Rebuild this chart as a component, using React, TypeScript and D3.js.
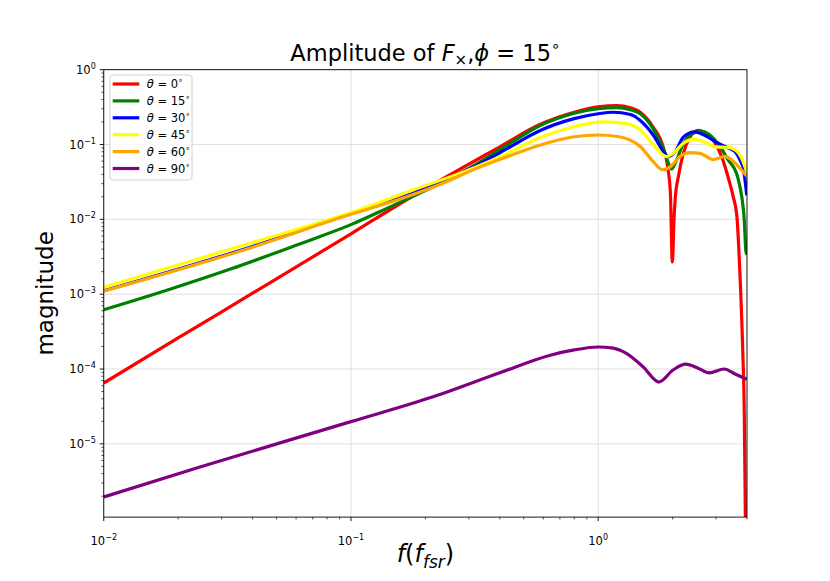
import * as d3 from "d3";

// figure size and axes box (matplotlib default subplot params)
const width = 830,
	height = 581;
const left = 103.75,
	right = 747,
	top = 69.7,
	bottom = 517.1;

const thetaLabels = ["0", "15", "30", "45", "60", "90"];
const colors = ["red", "green", "blue", "yellow", "orange", "purple"];

// [f / f_fsr, magnitude]
const theta0 = [
	[0.01, 6.5e-5], [0.02, 2.6e-4], [0.04, 1.03e-3], [0.1, 6.4e-3], [0.18, 2.1e-2],
	[0.25, 3.9e-2], [0.4, 0.093], [0.58, 0.185], [0.8, 0.27], [1.0, 0.318],
	[1.19, 0.332], [1.35, 0.31], [1.48, 0.27], [1.67, 0.17], [1.84, 0.088],
	[1.92, 0.045], [1.96, 0.022], [1.995, 0.0027], [2.03, 0.011], [2.05, 0.019],
	[2.11, 0.037], [2.21, 0.076], [2.35, 0.125], [2.54, 0.155], [2.7, 0.145],
	[2.92, 0.115], [3.16, 0.069], [3.36, 0.036], [3.52, 0.02], [3.64, 0.011],
	[3.75, 0.0017], [3.84, 2.0e-4], [3.9, 2.6e-5], [3.94, 1e-6], [3.97, 1e-7],
];
const theta15 = [
	[0.01, 6.2e-4], [0.018, 1.13e-3], [0.033, 2.2e-3], [0.062, 4.7e-3], [0.1, 8.5e-3],
	[0.144, 1.47e-2], [0.196, 2.35e-2], [0.31, 5.1e-2], [0.43, 0.099], [0.58, 0.178],
	[0.8, 0.262], [1.0, 0.302], [1.19, 0.312], [1.35, 0.292], [1.48, 0.258],
	[1.67, 0.162], [1.84, 0.086], [1.95, 0.051], [1.985, 0.047], [2.02, 0.051],
	[2.08, 0.063], [2.21, 0.103], [2.43, 0.142], [2.62, 0.15], [2.83, 0.134],
	[3.11, 0.094], [3.36, 0.062], [3.63, 0.041], [3.69, 0.034], [3.81, 0.02],
	[3.9, 0.0098], [3.96, 0.0037], [4.0, 0.0034],
];
const theta30 = [
	[0.01, 1.11e-3], [0.04, 4.35e-3], [0.09, 1.07e-2], [0.168, 2.08e-2], [0.25, 3.6e-2],
	[0.31, 4.9e-2], [0.43, 0.089], [0.58, 0.153], [0.8, 0.222], [1.0, 0.258],
	[1.15, 0.27], [1.35, 0.252], [1.48, 0.21], [1.67, 0.134], [1.86, 0.076],
	[1.92, 0.069], [2.05, 0.08], [2.21, 0.125], [2.46, 0.148], [2.75, 0.128],
	[3.06, 0.104], [3.31, 0.092], [3.58, 0.08], [3.75, 0.062], [3.87, 0.047],
	[3.99, 0.021],
];
const theta45 = [
	[0.01, 1.24e-3], [0.04, 4.9e-3], [0.1, 1.23e-2], [0.168, 2.3e-2], [0.31, 4.8e-2],
	[0.43, 0.076], [0.58, 0.123], [0.8, 0.173], [1.05, 0.201], [1.3, 0.19],
	[1.48, 0.156], [1.67, 0.1], [1.89, 0.069], [2.01, 0.076], [2.21, 0.104],
	[2.43, 0.117], [2.66, 0.11], [2.97, 0.093], [3.31, 0.092], [3.58, 0.085],
	[3.81, 0.065], [3.99, 0.043],
];
const theta60 = [
	[0.01, 1.1e-3], [0.04, 4.25e-3], [0.09, 1.05e-2], [0.168, 2.0e-2], [0.23, 2.94e-2],
	[0.31, 4.55e-2], [0.43, 0.069], [0.58, 0.098], [0.8, 0.127], [1.0, 0.134],
	[1.2, 0.128], [1.48, 0.094], [1.67, 0.059], [1.82, 0.046], [1.95, 0.05],
	[2.14, 0.069], [2.35, 0.078], [2.58, 0.076], [2.92, 0.063], [3.26, 0.0695],
	[3.47, 0.062], [3.75, 0.048], [3.99, 0.038],
];
const theta90 = [
	[0.01, 1.95e-6], [0.0245, 4.9e-6], [0.1, 1.98e-5], [0.215, 4.25e-5], [0.4, 8.9e-5],
	[0.64, 1.53e-4], [0.8, 1.8e-4], [1.0, 1.97e-4], [1.15, 1.9e-4], [1.3, 1.62e-4],
	[1.52, 1.07e-4], [1.76, 6.7e-5], [2.01, 9.7e-5], [2.26, 1.16e-4], [2.55, 1.02e-4],
	[2.81, 8.9e-5], [3.23, 1.0e-4], [3.6, 8.5e-5], [3.99, 7.3e-5],
];
const series = [theta0, theta15, theta30, theta45, theta60, theta90];

const xTicks = [0.01, 0.1, 1];
const xTickExp = ["\u22122", "\u22121", "0"];
const yTicks = [1, 1e-1, 1e-2, 1e-3, 1e-4, 1e-5];
const yTickExp = ["0", "\u22121", "\u22122", "\u22123", "\u22124", "\u22125"];

const font = "DejaVu Sans";

export default function App() {
	const x = d3.scaleLog().domain([0.01, 4]).range([left, right]);
	const y = d3.scaleLog().domain([1.05e-6, 1]).range([bottom, top]);

	const line = d3
		.line()
		.x((d) => x(d[0]))
		.y((d) => y(d[1]))
		.curve(d3.curveMonotoneX);

	const xMinor = x.ticks(30).filter((t) => !xTicks.some((m) => Math.abs(m - t) < 1e-9) && t <= 4);
	const yMinor = y.ticks(60).filter((t) => !yTicks.some((m) => Math.abs(m / t - 1) < 1e-6));

	return (
		<svg width={width} height={height} style={{ position: "absolute", left: 0, top: 0 }} fontFamily={font}>
			<rect width={width} height={height} fill="white" />
			<defs>
				<clipPath id="plot">
					<rect x={left} y={top} width={right - left} height={bottom - top} />
				</clipPath>
			</defs>

			{/* grid */}
			{xTicks.map((t) => (
				<line key={"gx" + t} x1={x(t)} x2={x(t)} y1={top} y2={bottom} stroke="#dcdcdc" strokeWidth={0.9} />
			))}
			{yTicks.map((t) => (
				<line key={"gy" + t} x1={left} x2={right} y1={y(t)} y2={y(t)} stroke="#dcdcdc" strokeWidth={0.9} />
			))}

			{/* curves */}
			<g clipPath="url(#plot)">
				{series.map((s, i) => (
					<path key={i} d={line(s)} fill="none" stroke={colors[i]} strokeWidth={3.2} strokeLinejoin="round" />
				))}
			</g>

			{/* frame */}
			<rect x={left} y={top} width={right - left} height={bottom - top} fill="none" stroke="black" strokeWidth={0.9} />

			{/* x ticks */}
			{xTicks.map((t, i) => (
				<g key={"xt" + t}>
					<line x1={x(t)} x2={x(t)} y1={bottom} y2={bottom + 4} stroke="black" strokeWidth={0.9} />
					<text x={x(t)} y={545} textAnchor="middle" fontSize={11.5}>
						10<tspan dy={-5} fontSize={8}>{xTickExp[i]}</tspan>
					</text>
				</g>
			))}
			{xMinor.map((t) => (
				<line key={"xm" + t} x1={x(t)} x2={x(t)} y1={bottom} y2={bottom + 2.3} stroke="black" strokeWidth={0.7} />
			))}

			{/* y ticks */}
			{yTicks.map((t, i) => (
				<g key={"yt" + t}>
					<line x1={left - 4} x2={left} y1={y(t)} y2={y(t)} stroke="black" strokeWidth={0.9} />
					<text x={left - 8} y={y(t) + 4} textAnchor="end" fontSize={11.5}>
						10<tspan dy={-5} fontSize={8}>{yTickExp[i]}</tspan>
					</text>
				</g>
			))}
			{yMinor.map((t) => (
				<line key={"ym" + t} x1={left - 2.3} x2={left} y1={y(t)} y2={y(t)} stroke="black" strokeWidth={0.7} />
			))}

			{/* title */}
			<text x={(left + right) / 2} y={61} textAnchor="middle" fontSize={22.5}>
				Amplitude of <tspan fontStyle="italic">F</tspan>
				<tspan dy={4} fontSize={15}>×</tspan>
				<tspan dy={-4}>,</tspan>
				<tspan fontStyle="italic">ϕ</tspan> = 15
				<tspan dy={-10} fontSize={15}>∘</tspan>
			</text>

			{/* axis labels */}
			<text x={(left + right) / 2} y={562} textAnchor="middle" fontSize={24}>
				<tspan fontStyle="italic">f</tspan>(<tspan fontStyle="italic">f</tspan>
				<tspan dy={6} fontSize={17} fontStyle="italic">fsr</tspan>
				<tspan dy={-6}>)</tspan>
			</text>
			<text transform={`translate(53,${(top + bottom) / 2}) rotate(-90)`} textAnchor="middle" fontSize={23}>
				magnitude
			</text>

			{/* legend */}
			<g>
				<rect x={110} y={75} width={82} height={105} rx={3} fill="white" fillOpacity={0.8} stroke="#cccccc" strokeWidth={0.9} />
				{thetaLabels.map((lab, i) => {
					const ry = 84 + i * 16.9;
					return (
						<g key={"lg" + i}>
							<line x1={112.7} x2={139.3} y1={ry} y2={ry} stroke={colors[i]} strokeWidth={3.2} />
							<text x={146.7} y={ry + 4} fontSize={11.5}>
								<tspan fontStyle="italic">θ</tspan> = {lab}
								<tspan dy={-5} fontSize={8}>∘</tspan>
							</text>
						</g>
					);
				})}
			</g>
		</svg>
	);
}
